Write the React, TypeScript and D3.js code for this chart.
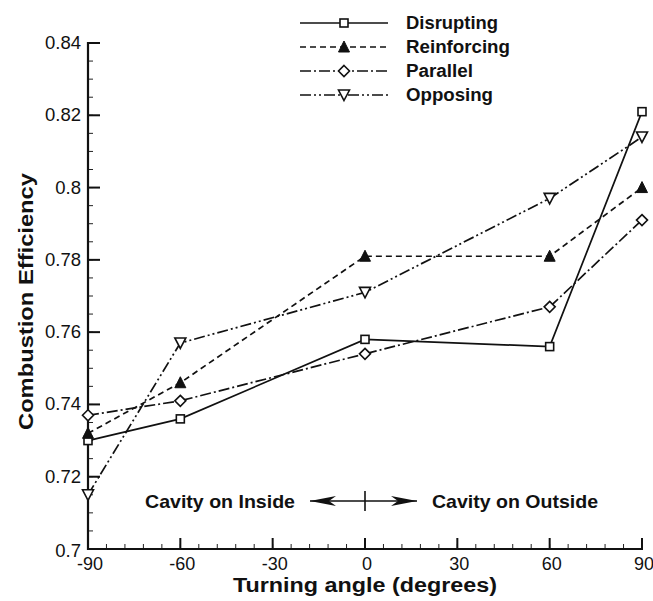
import React from "react";
import * as d3 from "d3";

const angles = [-90, -60, 0, 60, 90];
const disrupting = [0.730, 0.736, 0.758, 0.756, 0.821];
const reinforcing = [0.732, 0.746, 0.781, 0.781, 0.800];
const parallel = [0.737, 0.741, 0.754, 0.767, 0.791];
const opposing = [0.715, 0.757, 0.771, 0.797, 0.814];

const seriesNames = ["Disrupting", "Reinforcing", "Parallel", "Opposing"];
const xTicks = [-90, -60, -30, 0, 30, 60, 90];
const yTicks = [0.7, 0.72, 0.74, 0.76, 0.78, 0.8, 0.82, 0.84];

const W = 653;
const H = 601;
const FONT = "'Liberation Sans', Arial, Helvetica, sans-serif";

type Marker = "square" | "triangle" | "diamond" | "downTriangle";

const styles: { dash: string; marker: Marker; textLen: number }[] = [
  { dash: "none", marker: "square", textLen: 92 },
  { dash: "6 4", marker: "triangle", textLen: 104 },
  { dash: "11 3 2 3", marker: "diamond", textLen: 67 },
  { dash: "11 3 2 3 2 3", marker: "downTriangle", textLen: 87 },
];

function MarkerShape({ type, x, y }: { type: Marker; x: number; y: number }) {
  const s = 5;
  if (type === "square") {
    return (
      <rect x={x - 4} y={y - 4} width={8} height={8} fill="white" stroke="#111" strokeWidth={1.6} />
    );
  }
  if (type === "triangle") {
    return (
      <path d={`M${x},${y - s - 1} L${x + s + 0.5},${y + s} L${x - s - 0.5},${y + s} Z`} fill="#111" stroke="#111" strokeWidth={1} />
    );
  }
  if (type === "diamond") {
    return (
      <path d={`M${x},${y - s - 0.5} L${x + s + 0.5},${y} L${x},${y + s + 0.5} L${x - s - 0.5},${y} Z`} fill="white" stroke="#111" strokeWidth={1.6} />
    );
  }
  return (
    <path d={`M${x},${y + s + 0.5} L${x + s + 0.5},${y - s} L${x - s - 0.5},${y - s} Z`} fill="white" stroke="#111" strokeWidth={1.6} />
  );
}

export default function App() {
  const x = d3.scaleLinear().domain([-90, 90]).range([88, 642]);
  const y = d3.scaleLinear().domain([0.7, 0.84]).range([549, 43]);

  const data = [disrupting, reinforcing, parallel, opposing];
  const line = d3
    .line<[number, number]>()
    .x((d) => x(d[0]))
    .y((d) => y(d[1]));

  const xMinor = d3.range(-90, 90.001, 6);
  const yMinor = d3.range(0.7, 0.84001, 0.005);

  const legendX0 = 300;
  const legendX1 = 388;
  const legendY = [23, 47, 71, 95];

  const arrowY = 501;
  const arrowL = 310;
  const arrowR = 417;
  const arrowMid = x(0);

  return (
    <svg
      width={W}
      height={H}
      style={{ position: "absolute", left: 0, top: 0, background: "white" }}
      fontFamily={FONT}
    >
      <rect width={W} height={H} fill="white" />

      {/* minor ticks */}
      {xMinor.map((v, i) => (
        <line key={"xm" + i} x1={x(v)} x2={x(v)} y1={549} y2={544} stroke="#222" strokeWidth={1} />
      ))}
      {yMinor.map((v, i) => (
        <line key={"ym" + i} x1={88} x2={93} y1={y(v)} y2={y(v)} stroke="#222" strokeWidth={1} />
      ))}

      {/* major ticks */}
      {xTicks.map((v) => (
        <line key={"xt" + v} x1={x(v)} x2={x(v)} y1={549} y2={538} stroke="#111" strokeWidth={2} />
      ))}
      {yTicks.map((v) => (
        <line key={"yt" + v} x1={88} x2={100} y1={y(v)} y2={y(v)} stroke="#111" strokeWidth={2} />
      ))}

      {/* axis lines */}
      <line x1={88} x2={88} y1={42} y2={550} stroke="#111" strokeWidth={2.2} />
      <line x1={87} x2={643} y1={549} y2={549} stroke="#111" strokeWidth={2.2} />

      {/* tick labels */}
      {xTicks.map((v) => (
        <text key={"xl" + v} x={x(v) + 2} y={570} textAnchor="middle" fontSize={18} fill="#111">
          {v}
        </text>
      ))}
      {yTicks.map((v) => (
        <text
          key={"yl" + v}
          x={81}
          y={y(v) + (v === 0.7 ? 8 : 6)}
          textAnchor="end"
          fontSize={18.5}
          fill="#111"
        >
          {d3.format("")(+v.toFixed(2))}
        </text>
      ))}

      {/* axis titles */}
      <text
        x={233}
        y={592}
        fontSize={20}
        fontWeight="bold"
        fill="#111"
        textLength={264}
        lengthAdjust="spacingAndGlyphs"
      >
        Turning angle (degrees)
      </text>
      <text
        transform="translate(33,430) rotate(-90)"
        fontSize={20}
        fontWeight="bold"
        fill="#111"
        textLength={257}
        lengthAdjust="spacingAndGlyphs"
      >
        Combustion Efficiency
      </text>

      {/* series */}
      {data.map((vals, i) => {
        const pts = angles.map((a, j) => [a, vals[j]] as [number, number]);
        return (
          <g key={seriesNames[i]}>
            <path
              d={line(pts) || ""}
              fill="none"
              stroke="#111"
              strokeWidth={1.7}
              strokeDasharray={styles[i].dash}
            />
            {pts.map((p, j) => (
              <MarkerShape key={j} type={styles[i].marker} x={x(p[0])} y={y(p[1])} />
            ))}
          </g>
        );
      })}

      {/* legend */}
      {seriesNames.map((name, i) => (
        <g key={"lg" + name}>
          <line
            x1={legendX0}
            x2={legendX1}
            y1={legendY[i]}
            y2={legendY[i]}
            stroke="#111"
            strokeWidth={1.7}
            strokeDasharray={styles[i].dash}
          />
          <MarkerShape type={styles[i].marker} x={(legendX0 + legendX1) / 2} y={legendY[i]} />
          <text
            x={406}
            y={legendY[i] + 6}
            fontSize={18}
            fontWeight="bold"
            fill="#111"
            textLength={styles[i].textLen}
            lengthAdjust="spacingAndGlyphs"
          >
            {name}
          </text>
        </g>
      ))}

      {/* cavity orientation annotation */}
      <text
        x={145}
        y={arrowY + 7}
        fontSize={18.5}
        fontWeight="bold"
        fill="#111"
        textLength={150}
        lengthAdjust="spacingAndGlyphs"
      >
        Cavity on Inside
      </text>
      <text
        x={432}
        y={arrowY + 7}
        fontSize={18.5}
        fontWeight="bold"
        fill="#111"
        textLength={166}
        lengthAdjust="spacingAndGlyphs"
      >
        Cavity on Outside
      </text>
      <line x1={arrowL} x2={arrowR} y1={arrowY} y2={arrowY} stroke="#111" strokeWidth={1.6} />
      <line x1={arrowMid} x2={arrowMid} y1={arrowY - 10} y2={arrowY + 10} stroke="#111" strokeWidth={1.6} />
      <path
        d={`M${arrowL},${arrowY} L${arrowL + 26},${arrowY - 5} L${arrowL + 19},${arrowY} L${arrowL + 26},${arrowY + 5} Z`}
        fill="#111"
      />
      <path
        d={`M${arrowR},${arrowY} L${arrowR - 26},${arrowY - 5} L${arrowR - 19},${arrowY} L${arrowR - 26},${arrowY + 5} Z`}
        fill="#111"
      />
    </svg>
  );
}
